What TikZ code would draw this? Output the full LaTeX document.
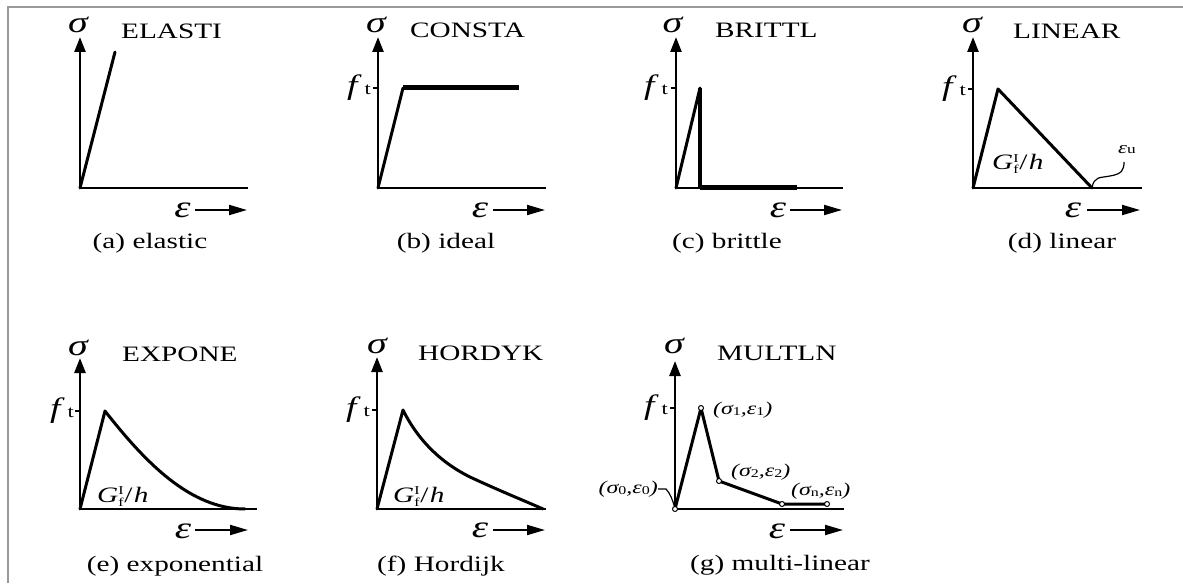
\documentclass[tikz,border=0pt]{standalone}
\usepackage{fontspec}
\setmainfont{Liberation Serif}
\usetikzlibrary{arrows.meta}
\newcommand{\hs}[1]{\scalebox{1.33}[1]{#1}}
\newcommand{\lsub}[1]{\raisebox{-1.5pt}{\fontsize{12}{12}\selectfont\upshape #1}}
\newcommand{\glab}{\textit{G}{\fontsize{12}{11}\selectfont\raisebox{-4pt}{\shortstack[l]{I\\f}}}\kern0.5pt/\kern1pt\textit{h}}
\newcommand{\ftl}{{\fontsize{28}{28}\selectfont\textit{f}}\kern2pt{\fontsize{17}{17}\selectfont t}}
\tikzset{
  yax/.style={line width=2.5pt, -{Triangle[length=15pt,width=11pt]}},
  axline/.style={line width=2.5pt},
  crv/.style={line width=3pt, line join=round, line cap=round},
  heavy/.style={line width=5pt},
  epsarrow/.style={line width=2pt, -{Triangle[length=18pt,width=10pt]}},
  ttl/.style={font=\fontsize{22}{26}\selectfont, anchor=base west, inner sep=0},
  captxt/.style={font=\fontsize{22}{26}\selectfont, anchor=base, inner sep=0},
  siglab/.style={font=\fontsize{30}{32}\selectfont\itshape, anchor=base, inner sep=0},
  epslab/.style={font=\fontsize{31}{32}\selectfont\itshape, anchor=base, inner sep=0},
  ftlab/.style={anchor=east, inner sep=0},
  glabel/.style={font=\fontsize{22}{26}\selectfont, anchor=base west, inner sep=0},
  slab/.style={font=\fontsize{18}{19}\selectfont\itshape, inner sep=0},
  tickln/.style={line width=1.5pt},
  knot/.style={circle, draw, fill=white, line width=1pt, inner sep=0, minimum size=5pt},
  frameln/.style={draw=black!40, line width=1.5pt},
  leader/.style={line width=1.2pt},
}
\begin{document}
\begin{tikzpicture}[x=1pt,y=-1pt]
\useasboundingbox (0,0) rectangle (1183,585);
% frame
\coordinate (F1) at (8,583); \coordinate (F2) at (8,7); \coordinate (F3) at (1183,7);
\draw[frameln] (F1) -- (F2) -- (F3);

% ---------- (a) elastic
\coordinate (aO) at (80,188); \coordinate (aY) at (80,37); \coordinate (aX) at (248,188);
\coordinate (aP) at (115,52);
\draw[yax] (aO) -- (aY);
\draw[axline] (aO) -- (aX);
\draw[crv] (aO) -- (aP);
\node[siglab] (aS) at (78,33) {\hs{σ}};
\node[ttl] (aT) at (121,39) {\hs{ELASTI}};
\node[epslab] (aE) at (182.5,218) {\hs{ε}};
\coordinate (aA1) at (195,210); \coordinate (aA2) at (247,210);
\draw[epsarrow] (aA1) -- (aA2);
\node[captxt] (aC) at (150,249) {\hs{(a) elastic}};

% ---------- (b) ideal
\coordinate (bO) at (378,188); \coordinate (bY) at (378,37); \coordinate (bX) at (546,188);
\coordinate (bT) at (373,88); \coordinate (bTa) at (378,88);
\coordinate (bP) at (403,88); \coordinate (bQ) at (519,88);
\draw[yax] (bO) -- (bY);
\draw[axline] (bO) -- (bX);
\draw[tickln] (bT) -- (bTa);
\draw[crv] (bO) -- (bP);
\draw[heavy] (bP) -- (bQ);
\node[siglab] (bS) at (376,33) {\hs{σ}};
\node[ttl] (bTt) at (410,38) {\hs{CONSTA}};
\node[ftlab] (bF) at (371,88) {\hs{\ftl}};
\node[epslab] (bE) at (480,218) {\hs{ε}};
\coordinate (bA1) at (493,210); \coordinate (bA2) at (545,210);
\draw[epsarrow] (bA1) -- (bA2);
\node[captxt] (bC) at (446,249) {\hs{(b) ideal}};

% ---------- (c) brittle
\coordinate (cO) at (676,188); \coordinate (cY) at (676,37); \coordinate (cX) at (843,188);
\coordinate (cT) at (671,88); \coordinate (cTa) at (676,88);
\coordinate (cP) at (700,88); \coordinate (cD) at (700,188); \coordinate (cE2) at (797,188);
\draw[yax] (cO) -- (cY);
\draw[axline] (cO) -- (cX);
\draw[tickln] (cT) -- (cTa);
\draw[crv] (cO) -- (cP);
\draw[line width=4pt] (cP) -- (cD);
\draw[heavy] (cD) -- (cE2);
\node[siglab] (cS) at (672.5,33) {\hs{σ}};
\node[ttl] (cTt) at (715,38) {\hs{BRITTL}};
\node[ftlab] (cF) at (668,88) {\hs{\ftl}};
\node[epslab] (cE) at (778,218) {\hs{ε}};
\coordinate (cA1) at (790,210); \coordinate (cA2) at (842,210);
\draw[epsarrow] (cA1) -- (cA2);
\node[captxt] (cC) at (727,249) {\hs{(c) brittle}};

% ---------- (d) linear
\coordinate (dO) at (973,188); \coordinate (dY) at (973,37); \coordinate (dX) at (1142,188);
\coordinate (dT) at (968,89); \coordinate (dTa) at (973,89);
\coordinate (dP) at (998,89); \coordinate (dQ) at (1092,188);
\draw[yax] (dO) -- (dY);
\draw[axline] (dO) -- (dX);
\draw[tickln] (dT) -- (dTa);
\draw[crv] (dO) -- (dP) -- (dQ);
\node[siglab] (dS) at (972,33) {\hs{σ}};
\node[ttl] (dTt) at (1013,39) {\hs{LINEAR}};
\node[ftlab] (dF) at (966,89) {\hs{\ftl}};
\node[glabel] (dG) at (992,170) {\hs{\glab}};
\node[font=\fontsize{17}{18}\selectfont, inner sep=0] (dU) at (1127,150) {\hs{\textit{ε}{\fontsize{13}{13}\selectfont u}}};
\coordinate (dL) at (1124,162);
\draw[leader] (dQ) .. controls (1094,176) and (1100,178) .. (1110,176) .. controls (1122,174) and (1124,170) .. (dL);
\node[epslab] (dE) at (1073,218) {\hs{ε}};
\coordinate (dA1) at (1087,210); \coordinate (dA2) at (1140,210);
\draw[epsarrow] (dA1) -- (dA2);
\node[captxt] (dC) at (1062,249) {\hs{(d) linear}};

% ---------- (e) exponential
\coordinate (eO) at (80,509); \coordinate (eY) at (80,358); \coordinate (eX) at (257,509);
\coordinate (eT) at (75,411); \coordinate (eTa) at (80,411);
\coordinate (eP) at (105,411); \coordinate (eC1) at (145,462); \coordinate (eC2) at (190,509);
\coordinate (eQ) at (245,509);
\draw[yax] (eO) -- (eY);
\draw[axline] (eO) -- (eX);
\draw[tickln] (eT) -- (eTa);
\draw[crv] (eO) -- (eP) .. controls (eC1) and (eC2) .. (eQ);
\node[siglab] (eS) at (78,355) {\hs{σ}};
\node[ttl] (eTt) at (122,361) {\hs{EXPONE}};
\node[ftlab] (eF) at (74,411) {\hs{\ftl}};
\node[glabel] (eG) at (97,502) {\hs{\glab}};
\node[epslab] (eE) at (183,538) {\hs{ε}};
\coordinate (eA1) at (195,530); \coordinate (eA2) at (248,530);
\draw[epsarrow] (eA1) -- (eA2);
\node[captxt] (eC) at (175,571) {\hs{(e) exponential}};

% ---------- (f) Hordijk
\coordinate (fO) at (377,509); \coordinate (fY) at (377,357); \coordinate (fX) at (546,509);
\coordinate (fT) at (372,410); \coordinate (fTa) at (377,410);
\coordinate (fP) at (403,410); \coordinate (fC1) at (418,440); \coordinate (fC2) at (440,462);
\coordinate (fM) at (470,477); \coordinate (fC3) at (500,491); \coordinate (fC4) at (525,501);
\coordinate (fQ) at (543,509);
\draw[yax] (fO) -- (fY);
\draw[axline] (fO) -- (fX);
\draw[tickln] (fT) -- (fTa);
\draw[crv] (fO) -- (fP) .. controls (fC1) and (fC2) .. (fM) .. controls (fC3) and (fC4) .. (fQ);
\node[siglab] (fS) at (377,353) {\hs{σ}};
\node[ttl] (fTt) at (418,360) {\hs{HORDYK}};
\node[ftlab] (fF) at (370,410) {\hs{\ftl}};
\node[glabel] (fG) at (393,502) {\hs{\glab}};
\node[epslab] (fE) at (480,537) {\hs{ε}};
\coordinate (fA1) at (493,530); \coordinate (fA2) at (545,530);
\draw[epsarrow] (fA1) -- (fA2);
\node[captxt] (fC) at (441,571) {\hs{(f) Hordijk}};

% ---------- (g) multi-linear
\coordinate (gO) at (675,509); \coordinate (gY) at (675,361); \coordinate (gX) at (844,509);
\coordinate (gT) at (670,408); \coordinate (gTa) at (675,408);
\coordinate (g1) at (701,408); \coordinate (g2) at (719,481); \coordinate (g3) at (782,504); \coordinate (g4) at (827,504);
\draw[yax] (gO) -- (gY);
\draw[axline] (gO) -- (gX);
\draw[tickln] (gT) -- (gTa);
\draw[crv] (gO) -- (g1) -- (g2) -- (g3) -- (g4);
\node[knot] (k0) at (gO) {}; \node[knot] (k1) at (g1) {}; \node[knot] (k2) at (g2) {};
\node[knot] (k3) at (g3) {}; \node[knot] (k4) at (g4) {};
\node[siglab] (gS) at (674,353) {\hs{σ}};
\node[ttl] (gTt) at (717,360) {\hs{MULTLN}};
\node[ftlab] (gF) at (668,408) {\hs{\ftl}};
\node[slab, anchor=west] (l1) at (713,410) {\hs{(σ\lsub{1},ε\lsub{1})}};
\node[slab, anchor=west] (l2) at (731,472) {\hs{(σ\lsub{2},ε\lsub{2})}};
\node[slab, anchor=west] (ln) at (791,491) {\hs{(σ\lsub{n},ε\lsub{n})}};
\node[slab, anchor=east] (l0) at (658,489) {\hs{(σ\lsub{0},ε\lsub{0})}};
\coordinate (gL) at (666,489);
\draw[leader] (l0.east) -- (gL) .. controls (670,493) and (673,501) .. (k0);
\node[epslab] (gE) at (777,538) {\hs{ε}};
\coordinate (gA1) at (790,530); \coordinate (gA2) at (843,530);
\draw[epsarrow] (gA1) -- (gA2);
\node[captxt] (gC) at (780,570) {\hs{(g) multi-linear}};
\end{tikzpicture}
\end{document}
